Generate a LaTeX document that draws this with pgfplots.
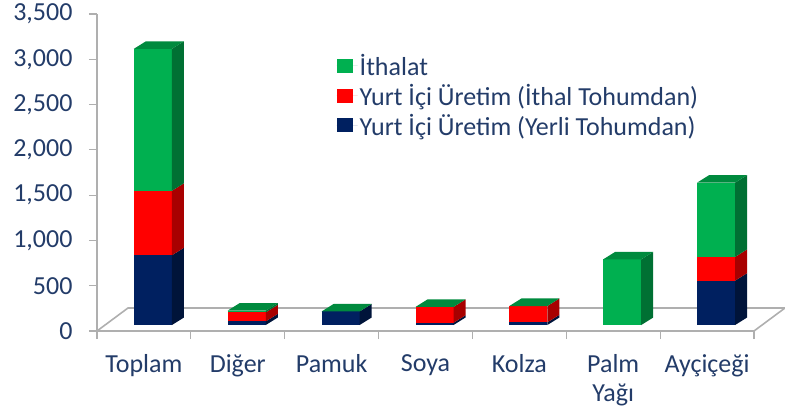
\documentclass[border=0pt]{standalone}
\usepackage{pgfplots}
\usepackage{pgfplotstable}
\pgfplotsset{compat=1.18}
\usepackage{fontspec}
\setmainfont{Carlito}
\definecolor{txt}{RGB}{35,60,105}
\definecolor{axgray}{RGB}{175,175,175}
\definecolor{cgreen}{RGB}{0,176,80}
\definecolor{cgreenS}{RGB}{0,112,51}
\definecolor{cgreenT}{RGB}{0,138,62}
\definecolor{cred}{RGB}{255,0,0}
\definecolor{credS}{RGB}{168,0,0}
\definecolor{cblue}{RGB}{0,32,96}
\definecolor{cblueS}{RGB}{0,20,58}

\pgfplotstableread{
idx blue red green
0 770 712 1568
1 40 100 20
2 150 0 0
3 25 175 0
4 30 180 0
5 0 0 725
6 490 262 820
}\chartdata

\def\bw{0.405}\def\ox{0.096}\def\oy{66}\def\ddx{0.128}\def\ddy{83}

\newcommand\seg[4]{%
  \pgfmathtruncatemacro\bbok{((#2)-(#1))>0.5}%
  \ifnum\bbok=1
    \pgfmathsetmacro\yq{#1+\ddy}%
    \pgfmathsetmacro\yw{#2+\ddy}%
    \edef\bbtmp{\noexpand\addplot[fill=#3,draw=none,forget plot] coordinates {(\xl,#1) (\xr,#1) (\xr,#2) (\xl,#2)} -- cycle;
      \noexpand\addplot[fill=#4,draw=none,forget plot] coordinates {(\xr,#1) (\xrb,\yq) (\xrb,\yw) (\xr,#2)} -- cycle;}%
    \bbtmp
  \fi}

\newcommand\drawbar[1]{%
  \pgfplotstablegetelem{#1}{blue}\of\chartdata\let\bbB\pgfplotsretval
  \pgfplotstablegetelem{#1}{red}\of\chartdata\let\bbR\pgfplotsretval
  \pgfplotstablegetelem{#1}{green}\of\chartdata\let\bbG\pgfplotsretval
  \pgfmathsetmacro\xl{#1-0.5*\bw+\ox}%
  \pgfmathsetmacro\xr{#1+0.5*\bw+\ox}%
  \pgfmathsetmacro\xlb{\xl+\ddx}%
  \pgfmathsetmacro\xrb{\xr+\ddx}%
  \pgfmathsetmacro\ya{\oy}%
  \pgfmathsetmacro\yb{\ya+\bbB}%
  \pgfmathsetmacro\yc{\yb+\bbR}%
  \pgfmathsetmacro\yd{\yc+\bbG}%
  \seg{\ya}{\yb}{cblue}{cblueS}%
  \seg{\yb}{\yc}{cred}{credS}%
  \seg{\yc}{\yd}{cgreen}{cgreenS}%
  \pgfmathsetmacro\ye{\yd+\ddy}%
  \edef\bbtmp{\noexpand\addplot[fill=cgreenT,draw=none,forget plot] coordinates {(\xl,\yd) (\xr,\yd) (\xrb,\ye) (\xlb,\ye)} -- cycle;}%
  \bbtmp
}

\begin{document}
\begin{tikzpicture}
\begin{axis}[
  at={(0,0)}, anchor=south west,
  scale only axis, width=657pt, height=317pt,
  xmin=-0.5, xmax=6.5, ymin=0, ymax=3500,
  clip=false,
  axis lines=left,
  axis line style={draw=axgray, line width=1.6pt, -},
  ytick={0,500,...,3500},
  xtick={0,...,6},
  xticklabels={Toplam,Diğer,Pamuk,Soya,Kolza,{Palm\\Yağı},Ayçiçeği},
  x tick style={draw=none},
  y tick style={draw=axgray, line width=1.2pt},
  major tick length=8pt, tick align=outside,
  extra x ticks={-0.5,0.5,...,6.5},
  extra x tick labels={},
  extra x tick style={x tick style={draw=axgray, line width=1.2pt}},
  ticklabel style={font=\fontsize{26}{29}\selectfont, text=txt},
  xticklabel style={align=center, yshift=-12pt},
  yticklabel style={xshift=-13pt},
  scaled y ticks=false,
  /pgf/number format/1000 sep={,},
  /pgf/number format/assume math mode=true,
  legend style={at={(axis cs:2.02,3100)}, anchor=north west, draw=none, fill=none,
    font=\fontsize{26}{28}\selectfont, text=txt, row sep=3pt},
  legend cell align=left,
  legend image code/.code={\fill[#1] (0pt,-7pt) rectangle (16pt,7pt); \path (0pt,0pt) -- (21pt,0pt);},
]
\addplot[draw=axgray, line width=1.6pt, forget plot] coordinates {(-0.5,0) (-0.17,254) (6.83,254) (6.5,0)};
\pgfplotsinvokeforeach{0,...,6}{\drawbar{#1}}
\addlegendimage{fill=cgreen, draw=none}\addlegendentry{İthalat}
\addlegendimage{fill=cred, draw=none}\addlegendentry{Yurt İçi Üretim (İthal Tohumdan)}
\addlegendimage{fill=cblue, draw=none}\addlegendentry{Yurt İçi Üretim (Yerli Tohumdan)}
\end{axis}
\pgfresetboundingbox
\path (-97pt,-85pt) rectangle (688pt,331pt);
\end{tikzpicture}
\end{document}
